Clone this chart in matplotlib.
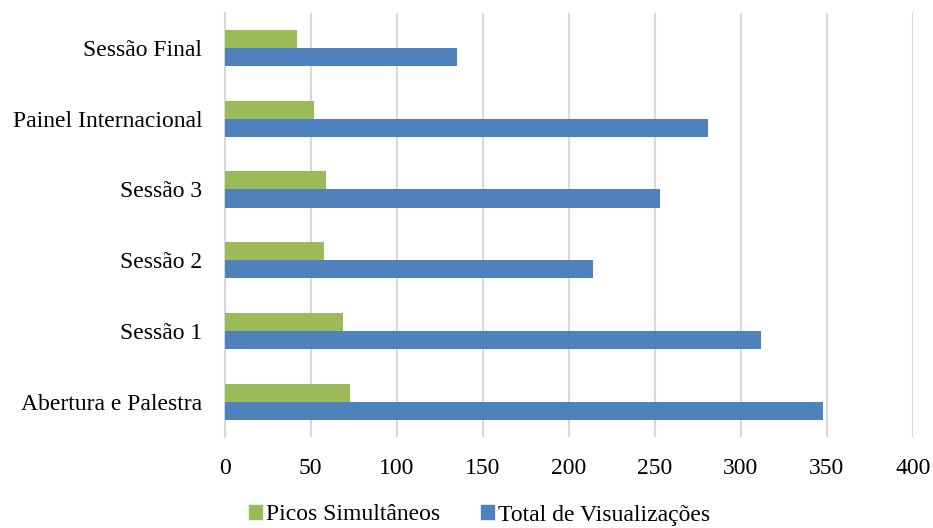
import numpy as np
import matplotlib.pyplot as plt
from matplotlib.patches import Patch

categorias = ['Sessão Final', 'Painel Internacional', 'Sessão 3', 'Sessão 2', 'Sessão 1', 'Abertura e Palestra']
picos = [42, 52, 59, 58, 69, 73]
total = [135, 281, 253, 214, 312, 348]

cor_verde = '#9BBB59'
cor_azul = '#4F81BD'

plt.rcParams['font.family'] = ['Liberation Serif', 'DejaVu Serif']

fig = plt.figure(figsize=(9.33, 5.28), dpi=100)
ax = fig.add_axes([224.5 / 933, 1 - 437 / 528, (912.7 - 224.5) / 933, (437 - 12.7) / 528])

y = np.arange(len(categorias))
h = 0.255
ax.barh(y - h / 2, picos, height=h, color=cor_verde, zorder=3)
ax.barh(y + h / 2, total, height=h, color=cor_azul, zorder=3)

ax.set_ylim(len(categorias) - 0.5, -0.5)
ax.set_xlim(0, 400)
ax.set_xticks(range(0, 401, 50))
ax.set_yticks(y)
ax.set_yticklabels(categorias, fontsize=17)
ax.tick_params(axis='x', labelsize=17, length=0, pad=15)
ax.tick_params(axis='y', length=0, pad=16)
ax.grid(axis='x', color='#D9D9D9', linewidth=1.5, zorder=0)
for s in ['top', 'right', 'bottom']:
    ax.spines[s].set_visible(False)
ax.spines['left'].set_color('#D9D9D9')
ax.spines['left'].set_linewidth(1.5)

handles = [Patch(color=cor_verde, label='Picos Simultâneos'),
           Patch(color=cor_azul, label='Total de Visualizações')]
fig.legend(handles=handles, loc='center', bbox_to_anchor=(0.514, 1 - 515 / 528), ncol=2,
           frameon=False, fontsize=17, handlelength=0.55, handleheight=0.55,
           handletextpad=0.15, columnspacing=1.75)

fig.savefig('out.png', dpi=100)
